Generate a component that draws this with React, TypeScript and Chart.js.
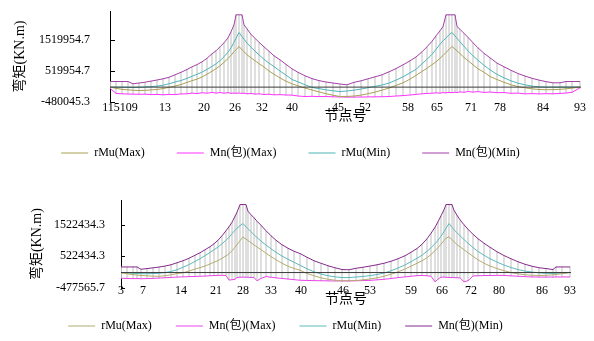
import { useEffect, useRef } from 'react';
import { Chart, registerables } from 'chart.js';

Chart.register(...registerables);

const FONT = '"Liberation Serif", "Noto Sans CJK SC", serif';
const SERIES_NAMES = ['rMu(Max)', 'Mn(包)(Max)', 'rMu(Min)', 'Mn(包)(Min)'];
const Y_TITLE = '弯矩(KN.m)';
const X_TITLE = '节点号';

// ---------- upper chart ----------
const topStations = [0, 6, 12, 18, 23, 29, 35, 41, 47, 53,
  59, 65, 71, 77, 82, 87, 92, 97, 102, 106,
  110, 114, 118, 121, 124, 126, 129, 132, 134, 137,
  141, 145, 149, 154, 159, 164, 170, 176, 182, 188,
  195, 202, 209, 216, 223, 230, 237, 244, 251, 258,
  265, 272, 279, 286, 293, 300, 306, 312, 317, 322,
  326, 330, 333, 336, 339, 342, 345, 347, 350, 354,
  358, 363, 368, 374, 380, 387, 394, 401, 408, 415,
  422, 429, 436, 443, 450, 456, 462, 470];
const topRMuMax = [0, -38700, -71000, -87100, -100000, -109700, -103200, -90300, -74200, -48400,
  -6500, 35500, 83900, 151600, 206500, 258100, 325800, 416100, 512900, 593500,
  687100, 800000, 922600, 1029000, 1138700, 1203200, 1309700, 1209700, 1145200, 1041900,
  945200, 851600, 758100, 648400, 519400, 416100, 296800, 190300, 106500, 41900,
  -29000, -93500, -154800, -212900, -261300, -303200, -300000, -287100, -258100, -212900,
  -161300, -96800, -32300, 54800, 138700, 258100, 377400, 506500, 609700, 722600,
  816100, 929000, 1019400, 1122600, 1212900, 1309700, 1229000, 1171000, 1083900, 958100,
  854800, 719400, 590300, 480600, 341900, 245200, 154800, 74200, 16100, -22600,
  -54800, -77400, -83900, -80600, -71000, -54800, -32300, 0];
const topMnMax = [-38700, -200000, -216100, -222600, -225800, -232300, -225800, -241900, -235500, -248400,
  -235500, -241900, -219400, -216100, -190300, -209700, -180600, -196800, -171000, -193500,
  -174200, -196800, -177400, -200000, -193500, -200000, -190300, -203200, -196800, -216100,
  -203200, -225800, -216100, -238700, -229000, -248400, -241900, -254800, -258100, -287100,
  -303200, -296800, -306500, -303200, -312900, -316100, -322600, -322600, -319400, -316100,
  -312900, -309700, -303200, -287100, -274200, -254800, -235500, -216100, -203200, -196800,
  -183900, -193500, -177400, -183900, -171000, -180600, -164500, -177400, -151600, -167700,
  -141900, -161300, -145200, -171000, -158100, -180600, -174200, -200000, -193500, -216100,
  -209700, -219400, -212900, -216100, -203200, -190300, -167700, -22600];
const topRMuMin = [0, -3200, -6500, -9700, -12900, -6500, 3200, 16100, 32300, 61300,
  106500, 164500, 212900, 283900, 348400, 412900, 483900, 574200, 671000, 751600,
  854800, 977400, 1129000, 1267700, 1445200, 1574200, 1761300, 1632300, 1545200, 1419400,
  1283900, 1161300, 1041900, 896800, 774200, 661300, 519400, 387100, 245200, 171000,
  74200, -9700, -48400, -87100, -119400, -141900, -125800, -96800, -61300, -19400,
  25800, 67700, 129000, 225800, 332300, 461300, 574200, 751600, 896800, 1058100,
  1219400, 1380600, 1493500, 1590300, 1687100, 1761300, 1654800, 1574200, 1461300, 1316100,
  1171000, 1009700, 864500, 703200, 558100, 412900, 300000, 203200, 125800, 74200,
  32300, 9700, 0, 0, 0, 0, 0, 0];
const topMnMin = [180600, 180600, 180600, 180600, 106500, 132300, 158100, 193500, 229000, 267700,
  316100, 396800, 477400, 567700, 654800, 725800, 816100, 929000, 1074200, 1171000,
  1300000, 1429000, 1590300, 1783900, 2009700, 2332300, 2332300, 2332300, 2009700, 1880600,
  1703200, 1574200, 1445200, 1300000, 1154800, 1009700, 880600, 735500, 590300, 477400,
  364500, 274200, 209700, 164500, 132300, 100000, 74200, 154800, 203200, 267700,
  332300, 396800, 493500, 596800, 719400, 848400, 971000, 1138700, 1300000, 1477400,
  1654800, 1816100, 1954800, 2332300, 2332300, 2332300, 2332300, 1954800, 1864500, 1735500,
  1606500, 1429000, 1267700, 1090300, 945200, 774200, 654800, 541900, 438700, 354800,
  283900, 225800, 177400, 138700, 138700, 180600, 180600, 180600];
const topTickStations = [10, 55, 94, 125, 152, 182, 228, 255, 298, 327, 361, 390, 433, 470];
const topTickLabels = ['115109', '13', '20', '26', '32', '40', '45', '52', '58', '65', '71', '78', '84', '93'];
const topYTicks = [-480045.3, 519954.7, 1519954.7];

// ---------- lower chart ----------
const botStations = [0, 6, 12, 16, 20, 26, 32, 38, 44, 50,
  56, 62, 68, 74, 79, 84, 89, 93, 97, 101,
  105, 108, 111, 114, 116, 119, 122, 125, 127, 130,
  133, 136, 140, 145, 150, 155, 161, 167, 173, 179,
  186, 193, 200, 207, 214, 221, 228, 235, 242, 249,
  256, 263, 270, 277, 284, 290, 296, 301, 306, 310,
  314, 317, 320, 323, 325, 328, 331, 333, 336, 339,
  343, 347, 352, 357, 363, 369, 376, 383, 390, 397,
  404, 411, 418, 425, 432, 435, 441, 449];
const botRMuMax = [0, -38300, -67100, -79900, -92700, -105400, -115000, -118200, -102200, -73500,
  -31900, -6400, 47900, 111800, 156600, 207700, 274800, 329100, 383400, 456900,
  530400, 600600, 696500, 808300, 888200, 1016000, 1137400, 1070300, 1022400, 955300,
  885000, 817900, 731600, 616600, 511200, 408900, 297100, 201300, 131000, 73500,
  -28800, -102200, -169300, -214100, -246000, -265200, -268400, -255600, -233200, -204500,
  -169300, -118200, -54300, 22400, 111800, 201300, 297100, 377000, 472800, 575100,
  696500, 798700, 904200, 1022400, 1095900, 1143800, 1047900, 984000, 894600, 824300,
  728400, 632600, 520800, 408900, 297100, 207700, 127800, 57500, 0, -41500,
  -70300, -86300, -92700, -89500, -73500, -60700, -38300, 0];
const botMnMax = [-182100, -188500, -194900, -191700, -198100, -191700, -185300, -175700, -166100, -156600,
  -143800, -137400, -131000, -124600, -118200, -111800, -102200, -95800, -89500, -86300,
  -95800, -239600, -230000, -214100, -156600, -150200, -143800, -150200, -150200, -156600,
  -159700, -262000, -188500, -127800, -150200, -169300, -188500, -207700, -226800, -246000,
  -252400, -258800, -262000, -265200, -268400, -268400, -265200, -262000, -255600, -249200,
  -233200, -214100, -191700, -162900, -137400, -118200, -99000, -92700, -102200, -118200,
  -293900, -214100, -143800, -147000, -150200, -156600, -159700, -162900, -166100, -169300,
  -293900, -262000, -108600, -102200, -95800, -92700, -89500, -92700, -105400, -118200,
  -131000, -140600, -143800, -143800, -143800, -140600, -140600, -140600];
const botRMuMin = [-6400, -16000, -25600, -31900, -35100, -38300, -31900, -22400, 0, 31900,
  89500, 169300, 255600, 354600, 440900, 539900, 642200, 728400, 814700, 920100,
  1032000, 1127800, 1239600, 1351400, 1415300, 1495200, 1565500, 1463300, 1399400, 1303500,
  1207700, 1118200, 1006400, 878600, 760400, 648600, 527200, 424900, 329100, 233200,
  121400, 25600, -47900, -102200, -137400, -159700, -159700, -143800, -124600, -99000,
  -63900, -16000, 57500, 143800, 242800, 345000, 456900, 552700, 680500, 792300,
  920100, 1032000, 1159700, 1303500, 1415300, 1565500, 1447300, 1367400, 1271600, 1175700,
  1054300, 936100, 798700, 674100, 552700, 440900, 335500, 239600, 159700, 95800,
  47900, 16000, -9600, -25600, -28800, -22400, -12800, 0];
const botMnMin = [178900, 178900, 178900, 178900, 105400, 127800, 150200, 175700, 207700, 249200,
  313100, 377000, 456900, 552700, 632600, 728400, 824300, 920100, 1032000, 1175700,
  1335500, 1463300, 1607000, 1798700, 1926500, 2172500, 2172500, 2172500, 1958500, 1846700,
  1750800, 1639000, 1511200, 1335500, 1175700, 1032000, 888200, 776400, 680500, 607000,
  488800, 377000, 297100, 217300, 153400, 95800, 89500, 137400, 169300, 207700,
  249200, 297100, 361000, 440900, 536700, 648600, 766800, 904200, 1079900, 1255600,
  1447300, 1623000, 1814700, 2006400, 2172500, 2172500, 2172500, 1990400, 1830700, 1686900,
  1527200, 1383400, 1223600, 1079900, 936100, 808300, 664500, 543100, 440900, 345000,
  265200, 201300, 153400, 127800, 95800, 178900, 178900, 178900];
const botTickStations = [0, 22, 60, 95, 122, 150, 180, 222, 249, 290, 321, 350, 378, 421, 449];
const botTickLabels = ['3', '7', '14', '21', '28', '33', '40', '46', '53', '59', '66', '72', '80', '86', '93'];
const botYTicks = [-477565.7, 522434.3, 1522434.3];

type Spec = {
  stations: number[]; series: number[][]; tickStations: number[]; tickLabels: string[]; yTicks: number[];
  xMax: number; yMin: number; yMax: number; colors: string[]; barColor: string;
  padTop: number; padRight: number; yAxisWidth: number; yLabelGap: number; yTitlePad: number;
  xAxisHeight: number; xTickPad: number; xMirror: boolean; xTitlePadBottom: number; tickMark: number;
  legendPad: number;
};

const innerTicks = {
  id: 'innerTicks',
  afterDatasetsDraw(chart: any, _args: any, opts: any) {
    const y = chart.scales.y;
    const { ctx, chartArea } = chart;
    ctx.save();
    ctx.strokeStyle = '#000';
    ctx.lineWidth = 1;
    y.ticks.forEach((t: any) => {
      const py = Math.round(y.getPixelForValue(t.value)) + 0.5;
      ctx.beginPath();
      ctx.moveTo(chartArea.left, py);
      ctx.lineTo(chartArea.left + (opts.len || 5), py);
      ctx.stroke();
    });
    ctx.restore();
  },
};

function makeChart(canvas: HTMLCanvasElement, s: Spec) {
  const datasets: any[] = s.series.map((vals, k) => ({
    type: 'line',
    label: SERIES_NAMES[k],
    data: s.stations.map((x, i) => ({ x, y: vals[i] })),
    borderColor: s.colors[k],
    backgroundColor: s.colors[k],
    borderWidth: 1,
    pointRadius: 0,
    tension: 0,
    order: 1,
  }));
  datasets.push({
    type: 'line', label: 'axis',
    data: [{ x: 0, y: 0 }, { x: s.xMax, y: 0 }],
    borderColor: '#3a3a3a', borderWidth: 1, pointRadius: 0, order: 0,
  });
  datasets.push({
    type: 'bar', label: 'range',
    data: s.stations.map((x, i) => ({ x, y: [s.series[1][i], s.series[3][i]] })),
    backgroundColor: s.barColor, borderWidth: 0, barThickness: 1, grouped: false, order: 5,
  });
  return new Chart(canvas, {
    type: 'line',
    data: { datasets },
    plugins: [innerTicks],
    options: {
      responsive: false,
      animation: false,
      events: [],
      layout: { padding: { top: s.padTop, right: s.padRight, left: 0, bottom: 0 } },
      plugins: {
        tooltip: { enabled: false },
        innerTicks: { len: s.tickMark },
        legend: {
          position: 'bottom',
          labels: {
            usePointStyle: true,
            pointStyle: 'line',
            pointStyleWidth: 27,
            padding: s.legendPad,
            color: '#000',
            font: { family: FONT, size: 12 },
            filter: (item: any) => item.datasetIndex < 4,
          },
        },
      } as any,
      scales: {
        x: {
          type: 'linear', min: 0, max: s.xMax, offset: false,
          grid: { display: false, drawTicks: false },
          border: { display: false },
          afterBuildTicks: (sc: any) => { sc.ticks = s.tickStations.map((v) => ({ value: v })); },
          afterFit: (sc: any) => { sc.height = s.xAxisHeight; },
          ticks: {
            autoSkip: false, maxRotation: 0, minRotation: 0, padding: s.xTickPad, mirror: s.xMirror, color: '#000',
            font: { family: FONT, size: 12 },
            callback: (_v: any, i: number) => s.tickLabels[i],
          },
          title: { display: true, text: X_TITLE, color: '#000', font: { family: FONT, size: 14 }, padding: { top: 0, bottom: s.xTitlePadBottom } },
        },
        y: {
          type: 'linear', min: s.yMin, max: s.yMax,
          grid: { display: false, drawTicks: true, tickLength: s.yLabelGap - 2 },
          border: { display: true, color: '#000', width: 1 },
          afterBuildTicks: (sc: any) => { sc.ticks = s.yTicks.map((v) => ({ value: v })); },
          afterFit: (sc: any) => { sc.width = s.yAxisWidth; },
          ticks: {
            padding: 2, color: '#000', font: { family: FONT, size: 12 },
            callback: (v: any) => Number(v).toFixed(1),
          },
          title: { display: true, text: Y_TITLE, color: '#000', font: { family: FONT, size: 14 }, padding: { top: s.yTitlePad, bottom: 0 } },
        },
      } as any,
    } as any,
  });
}

const topSpec: Spec = {
  stations: topStations, series: [topRMuMax, topMnMax, topRMuMin, topMnMin],
  tickStations: topTickStations, tickLabels: topTickLabels, yTicks: topYTicks,
  xMax: 471, yMin: -480045.3, yMax: 2455500,
  colors: ['#a8a054', '#ff33ff', '#4db5b5', '#a23fa8'], barColor: '#d9d9d9',
  padTop: 11, padRight: 13, yAxisWidth: 110, yLabelGap: 20, yTitlePad: 12,
  xAxisHeight: 13, xTickPad: -1, xMirror: false, xTitlePadBottom: -9.4, tickMark: 5,
  legendPad: 32,
};
const botSpec: Spec = {
  stations: botStations, series: [botRMuMax, botMnMax, botRMuMin, botMnMin],
  tickStations: botTickStations, tickLabels: botTickLabels, yTicks: botYTicks,
  xMax: 450, yMin: -477565.7, yMax: 2295600,
  colors: ['#b3ad70', '#ea44ea', '#5cbaba', '#862b8c'], barColor: '#d9d9d9',
  padTop: 30.7, padRight: 23, yAxisWidth: 121, yLabelGap: 16, yTitlePad: 28.6,
  xAxisHeight: 8.5, xTickPad: -10.3, xMirror: true, xTitlePadBottom: -11.4, tickMark: 4,
  legendPad: 24,
};

export default function App() {
  const topRef = useRef<HTMLCanvasElement | null>(null);
  const botRef = useRef<HTMLCanvasElement | null>(null);
  useEffect(() => {
    const c1 = makeChart(topRef.current!, topSpec);
    const c2 = makeChart(botRef.current!, botSpec);
    return () => { c1.destroy(); c2.destroy(); };
  }, []);
  return (
    <div style={{ position: 'fixed', left: 0, top: 0, width: 594, height: 341, overflow: 'hidden', background: '#fff' }}>
      <canvas ref={topRef} width={594} height={169} style={{ position: 'absolute', left: 0, top: 0, width: 594, height: 169 }} />
      <canvas ref={botRef} width={594} height={172} style={{ position: 'absolute', left: 0, top: 170, width: 594, height: 172 }} />
    </div>
  );
}
